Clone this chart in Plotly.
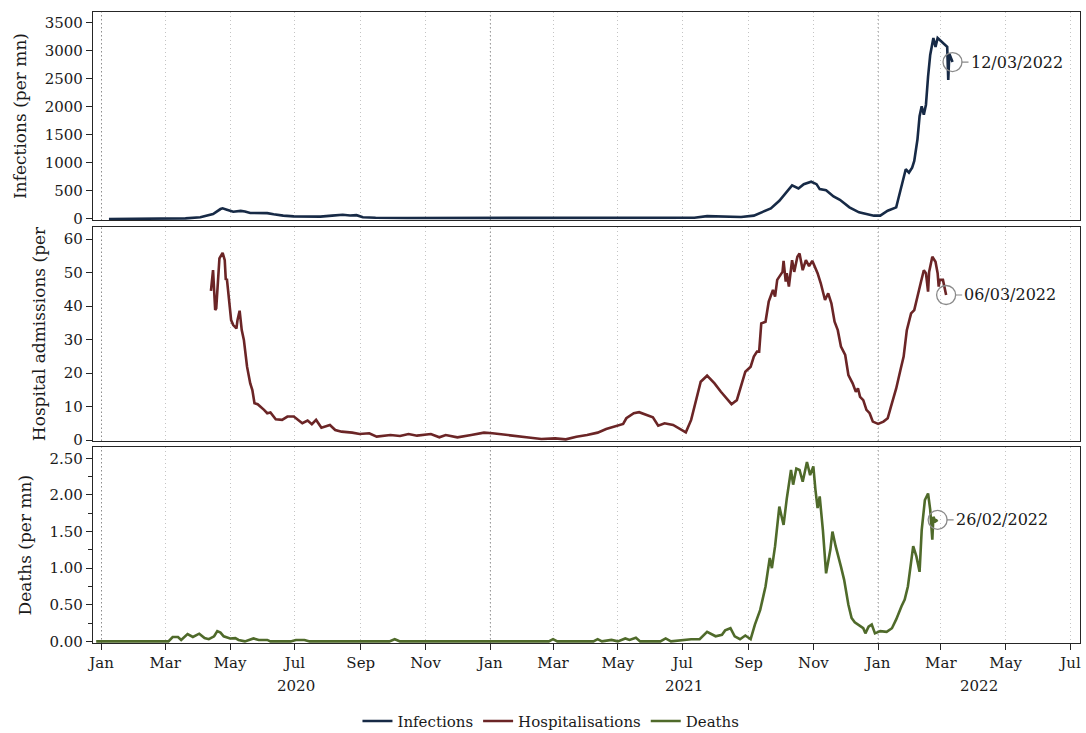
import pandas as pd
import plotly.graph_objects as go
from plotly.subplots import make_subplots

# ---------------- data ----------------
inf_dates = ["2020-01-08","2020-02-10","2020-03-05","2020-03-20","2020-04-03","2020-04-15","2020-04-22","2020-04-24",
 "2020-04-28","2020-05-04","2020-05-11","2020-05-15","2020-05-20","2020-05-30","2020-06-05","2020-06-11","2020-06-20",
 "2020-06-30","2020-07-10","2020-07-25","2020-08-05","2020-08-15","2020-08-22","2020-08-28","2020-09-03","2020-09-15",
 "2020-10-15","2020-12-01","2021-02-01","2021-04-01","2021-05-15","2021-06-29","2021-07-12","2021-07-24","2021-08-10",
 "2021-08-25","2021-09-06","2021-09-14","2021-09-22","2021-09-30","2021-10-06","2021-10-12","2021-10-18","2021-10-23",
 "2021-10-30","2021-11-04","2021-11-07","2021-11-13","2021-11-20","2021-11-26","2021-12-05","2021-12-14","2021-12-25",
 "2021-12-28","2022-01-03","2022-01-10","2022-01-18","2022-01-21","2022-01-24","2022-01-27","2022-01-30","2022-02-02",
 "2022-02-04","2022-02-07","2022-02-09","2022-02-11","2022-02-13","2022-02-15","2022-02-17","2022-02-19","2022-02-22",
 "2022-02-24","2022-02-26","2022-03-02","2022-03-07","2022-03-08","2022-03-09","2022-03-12"]
inf_values = [0,1,4,10,30,89,177,190,
 165,130,145,135,106,100,104,83,59,
 47,40,42,60,75,62,68,30,22,
 18,17,18,17,18,12,23,50,35,
 35,59,118,189,325,473,600,544,621,
 665,621,532,514,402,342,207,118,71,
 59,60,147,207,443,650,887,828,917,
 1034,1418,1832,2009,1862,2039,2541,2926,3230,
 3070,3230,3160,3070,2480,2950,2800]

hosp_dates = ["2020-04-13","2020-04-15","2020-04-17","2020-04-18","2020-04-21","2020-04-24","2020-04-26","2020-04-27",
 "2020-04-28","2020-05-02","2020-05-04","2020-05-07","2020-05-08","2020-05-10","2020-05-12","2020-05-14","2020-05-17",
 "2020-05-20","2020-05-22","2020-05-24","2020-05-27","2020-05-30","2020-06-02","2020-06-05","2020-06-08","2020-06-13",
 "2020-06-19","2020-06-24","2020-06-30","2020-07-08","2020-07-13","2020-07-17","2020-07-21","2020-07-26","2020-08-03",
 "2020-08-08","2020-08-14","2020-08-24","2020-08-31","2020-09-09","2020-09-16","2020-09-29","2020-10-08","2020-10-16",
 "2020-10-24","2020-11-06","2020-11-14","2020-11-20","2020-12-01","2020-12-14","2020-12-26","2021-01-03","2021-01-13",
 "2021-01-26","2021-02-08","2021-02-18","2021-03-03","2021-03-13","2021-03-23","2021-04-02","2021-04-12","2021-04-20",
 "2021-04-28","2021-05-06","2021-05-09","2021-05-16","2021-05-21","2021-05-27","2021-06-03","2021-06-08","2021-06-14",
 "2021-06-22","2021-06-30","2021-07-04","2021-07-09","2021-07-13","2021-07-18","2021-07-24","2021-07-31","2021-08-06",
 "2021-08-11","2021-08-16","2021-08-21","2021-08-25","2021-08-29","2021-09-03","2021-09-06","2021-09-09","2021-09-11",
 "2021-09-13","2021-09-17","2021-09-20","2021-09-24","2021-09-26","2021-09-28","2021-10-03","2021-10-04","2021-10-06",
 "2021-10-07","2021-10-09","2021-10-11","2021-10-12","2021-10-14","2021-10-17","2021-10-19","2021-10-22","2021-10-25",
 "2021-10-28","2021-10-31","2021-11-02","2021-11-05","2021-11-08","2021-11-12","2021-11-15","2021-11-18","2021-11-21",
 "2021-11-24","2021-11-27","2021-12-01","2021-12-04","2021-12-08","2021-12-11","2021-12-13","2021-12-15","2021-12-18",
 "2021-12-21","2021-12-24","2021-12-27","2022-01-01","2022-01-06","2022-01-10","2022-01-13","2022-01-18","2022-01-22",
 "2022-01-25","2022-01-28","2022-02-01","2022-02-04","2022-02-07","2022-02-10","2022-02-13","2022-02-15","2022-02-17",
 "2022-02-18","2022-02-21","2022-02-24","2022-02-26","2022-02-27","2022-02-28","2022-03-03","2022-03-06"]
hosp_values = [44.5,50.7,38.8,39.3,54.2,55.9,53.7,47.8,
 48.2,35.8,34.3,33.3,35.8,38.6,32.8,29.9,21.9,
 16.9,14.9,11.0,10.7,9.9,9.0,8.0,8.2,6.2,
 6.0,7.0,7.0,5.0,5.8,4.7,6.0,3.7,4.5,
 3.0,2.5,2.2,1.8,2.0,1.0,1.5,1.2,1.8,
 1.3,1.8,0.8,1.5,0.8,1.5,2.2,2.0,1.7,
 1.2,0.7,0.3,0.5,0.2,1.0,1.5,2.2,3.3,
 4.0,4.8,6.5,8.0,8.3,7.5,6.8,4.3,5.0,
 4.5,3.0,2.3,6.0,11.0,17.4,19.2,16.9,14.4,
 12.4,10.7,11.9,15.9,20.4,21.9,24.9,26.4,26.4,
 34.8,35.3,41.3,44.8,42.8,47.8,50.2,53.5,47.3,
 49.8,45.8,52.2,53.7,50.2,54.7,55.7,50.7,53.7,
 51.9,53.5,52.2,49.8,46.8,41.8,43.8,40.8,35.3,
 32.8,27.9,25.4,19.4,16.9,14.4,15.4,12.9,11.9,
 9.0,8.0,5.5,4.8,5.5,6.5,9.9,15.4,20.9,
 24.9,32.8,37.8,38.8,43.3,46.8,50.7,49.8,44.3,
 50.2,54.7,53.2,49.8,45.8,47.8,47.8,43.3]

death_dates = ["2019-12-27","2020-03-04","2020-03-08","2020-03-13","2020-03-16","2020-03-22","2020-03-27","2020-04-02",
 "2020-04-07","2020-04-11","2020-04-16","2020-04-19","2020-04-22","2020-04-25","2020-05-01","2020-05-06","2020-05-09",
 "2020-05-15","2020-05-23","2020-05-28","2020-06-05","2020-06-08","2020-06-27","2020-07-02","2020-07-10","2020-07-15",
 "2020-09-28","2020-10-03","2020-10-08","2021-02-25","2021-03-01","2021-03-05","2021-04-08","2021-04-12","2021-04-16",
 "2021-04-25","2021-05-01","2021-05-08","2021-05-12","2021-05-18","2021-05-22","2021-06-10","2021-06-15","2021-06-20",
 "2021-07-09","2021-07-17","2021-07-24","2021-08-01","2021-08-07","2021-08-10","2021-08-15","2021-08-19","2021-08-24",
 "2021-08-29","2021-09-03","2021-09-07","2021-09-12","2021-09-17","2021-09-21","2021-09-23","2021-09-26","2021-09-30",
 "2021-10-04","2021-10-07","2021-10-11","2021-10-13","2021-10-16","2021-10-19","2021-10-22","2021-10-26","2021-10-29",
 "2021-11-01","2021-11-03","2021-11-05","2021-11-07","2021-11-10","2021-11-13","2021-11-17","2021-11-19","2021-11-22",
 "2021-11-27","2021-11-30","2021-12-04","2021-12-07","2021-12-10","2021-12-14","2021-12-18","2021-12-20","2021-12-23",
 "2021-12-26","2021-12-29","2022-01-03","2022-01-09","2022-01-14","2022-01-18","2022-01-23","2022-01-26","2022-01-29",
 "2022-02-02","2022-02-03","2022-02-06","2022-02-09","2022-02-11","2022-02-14","2022-02-17","2022-02-19","2022-02-21",
 "2022-02-22","2022-02-24","2022-02-26"]
death_values = [0,0,0.06,0.06,0.02,0.10,0.06,0.105,
 0.045,0.03,0.07,0.14,0.12,0.07,0.04,0.045,0.02,
 0.0,0.04,0.02,0.02,0.0,0.0,0.02,0.02,0.0,
 0.0,0.03,0.0,0.0,0.03,0.0,0.0,0.03,0.0,
 0.02,0.0,0.04,0.02,0.05,0.0,0.0,0.04,0.0,
 0.03,0.03,0.13,0.07,0.09,0.15,0.18,0.07,0.03,
 0.08,0.03,0.23,0.43,0.75,1.14,1.00,1.30,1.84,
 1.59,1.95,2.34,2.14,2.36,2.34,2.18,2.45,2.27,
 2.39,2.07,1.82,1.98,1.52,0.93,1.25,1.50,1.30,
 1.02,0.84,0.50,0.32,0.26,0.22,0.18,0.11,0.20,
 0.23,0.11,0.14,0.13,0.18,0.30,0.48,0.57,0.75,
 1.20,1.30,1.16,0.95,1.52,1.93,2.02,1.80,1.39,
 1.70,1.64,1.66]

series_names = ["Infections", "Hospitalisations", "Deaths"]
series_colors = ["#172a46", "#6b2526", "#4f6a2a"]
y_titles = ["Infections (per mn)", "Hospital admissions (per", "Deaths (per mn)"]
y_ranges = [[-18, 3693], [-0.3, 63.6], [-0.022, 2.65]]
y_dticks = [500, 10, 0.5]
x_range = ["2019-12-24", "2022-07-10"]
year_labels = ["2020", "2021", "2022"]
month_ticks = pd.date_range("2020-01-01", "2022-07-01", freq="2MS")

FONT = "DejaVu Serif"
GRID = "#c4c4c4"
AXIS = "#262626"
DOT = "1px,3px"

all_dates = [inf_dates, hosp_dates, death_dates]
all_values = [inf_values, hosp_values, death_values]

fig = make_subplots(rows=3, cols=1, shared_xaxes=True)

for i in range(3):
    d = pd.to_datetime(all_dates[i])
    fig.add_trace(go.Scatter(x=d, y=all_values[i], mode="lines", name=series_names[i],
                             line=dict(color=series_colors[i], width=2.6)), row=i + 1, col=1)
    # circle marking last observation
    fig.add_trace(go.Scatter(x=[d[-1]], y=[all_values[i][-1]], mode="markers", showlegend=False,
                             marker=dict(symbol="circle-open", size=19, color="#8a8a8a",
                                         line=dict(width=1.3, color="#8a8a8a")),
                             hoverinfo="skip"), row=i + 1, col=1)
    xr = "x" if i == 0 else f"x{i+1}"
    yr = "y" if i == 0 else f"y{i+1}"
    fig.add_annotation(x=d[-1], y=all_values[i][-1], xref=xr, yref=yr,
                       text=d[-1].strftime("%d/%m/%Y"), showarrow=True, arrowhead=0,
                       arrowcolor="#8a8a8a", arrowwidth=1.2, ax=16, ay=0, standoff=9,
                       xanchor="left", yanchor="middle",
                       font=dict(family=FONT, size=16, color="#1a1a1a"))
    # darker dotted gridline at each new year
    for yd in ["2020-01-01", "2021-01-01", "2022-01-01"]:
        fig.add_shape(type="line", x0=yd, x1=yd, xref=xr, y0=0, y1=1, yref=f"{yr} domain",
                      line=dict(color="#8c8c8c", width=1, dash=DOT), layer="below")

domains = [[0.6704, 1.0], [0.3201, 0.6593], [0.0, 0.3101]]
for i in range(3):
    xa = dict(range=x_range, tickvals=month_ticks, ticktext=[m.strftime("%b") for m in month_ticks],
              showgrid=True, gridcolor=GRID, griddash=DOT, gridwidth=1,
              showline=True, mirror=True, linecolor=AXIS, linewidth=1.3, zeroline=False)
    if i < 2:
        xa.update(showticklabels=False, ticks="")
    else:
        xa.update(ticks="outside", ticklen=6, tickcolor=AXIS, tickwidth=1.2,
                  tickfont=dict(family=FONT, size=15, color="#1a1a1a"))
    ya = dict(domain=domains[i], range=y_ranges[i], dtick=y_dticks[i], tick0=0,
              showgrid=False, zeroline=False, showline=True, mirror=True,
              linecolor=AXIS, linewidth=1.3, ticks="outside", ticklen=6, tickcolor=AXIS, tickwidth=1.2,
              tickfont=dict(family=FONT, size=15, color="#1a1a1a"),
              title=dict(text=y_titles[i], font=dict(family=FONT, size=17, color="#1a1a1a"), standoff=13))
    if i == 2:
        ya.update(tickformat=".2f", minor=dict(dtick=0.25, tick0=0, ticks="outside", ticklen=4,
                                               tickcolor=AXIS, showgrid=False))
    key = "" if i == 0 else str(i + 1)
    fig.layout["xaxis" + key].update(xa)
    fig.layout["yaxis" + key].update(ya)

# year labels centred on each year's visible span
lo, hi = pd.Timestamp(x_range[0]), pd.Timestamp(x_range[1])
for yl in year_labels:
    s = max(pd.Timestamp(f"{yl}-01-01"), lo)
    e = min(pd.Timestamp(f"{int(yl)+1}-01-01"), hi)
    mid = s + (e - s) / 2
    fig.add_annotation(x=mid, y=0, xref="x3", yref="paper", yshift=-43, showarrow=False,
                       text=yl, font=dict(family=FONT, size=15, color="#1a1a1a"), yanchor="middle")

fig.update_layout(
    width=1086, height=733,
    margin=dict(l=93, r=6, t=12, b=90, autoexpand=False),
    paper_bgcolor="white", plot_bgcolor="white",
    font=dict(family=FONT, color="#1a1a1a"),
    showlegend=True,
    legend=dict(orientation="h", x=0.464, xanchor="center", y=-0.124, yanchor="middle",
                font=dict(family=FONT, size=15, color="#1a1a1a"), itemwidth=30,
                tracegroupgap=0),
)

fig.write_html("out.html")
